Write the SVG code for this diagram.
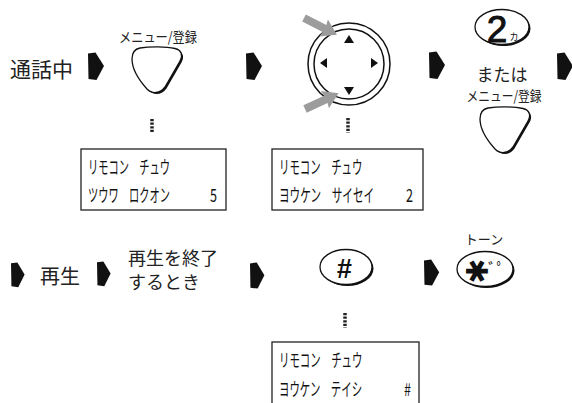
<svg xmlns="http://www.w3.org/2000/svg" width="572" height="403" viewBox="0 0 572 403">
<style>
.bg{fill:#fff}
.lbl{font-family:"Noto Sans CJK JP","Noto Sans",sans-serif;fill:#222}
.lcd{font-family:"Noto Sans CJK JP","Noto Sans",sans-serif;font-size:18px;fill:#111}
.box{fill:#fff;stroke:#222;stroke-width:1.3}
.key{fill:#fff;stroke:#111;stroke-width:1.3}
.shadow{fill:#111}
.dots{stroke:#222;stroke-width:3.5;stroke-dasharray:2.2 1.4;fill:none}
.ring{fill:none;stroke:#111;stroke-width:1.5}
.tri{fill:#111}
.garrow{fill:#9c9c9c}
</style>
<defs>
<path id="arr" d="M0,1.5 L7.5,0.5 L16,14 L8.5,28 L0.5,27 Z" fill="#111"/>
<path id="btnshape" d="M10,1 C20,-0.5 36,-0.5 45,1.5 C52,3 53,9 50,14 L35,40 C30,47 22,47 17,42 C8,32 2,22 2,12 C2,5 5,2 10,1 Z"/>
<polygon id="garr" points="0,-4 23,-4 22,-9.5 37,0 22,9.5 23,4 0,4"/>
</defs>
<rect class="bg" x="0" y="0" width="572" height="403"/>

<g id="connectors">
<use href="#arr" x="88" y="52"/>
<use href="#arr" x="246" y="52"/>
<use href="#arr" x="429" y="51"/>
<use href="#arr" x="557" y="52"/>
<use href="#arr" transform="translate(11,262) scale(0.85,0.9)"/>
<use href="#arr" transform="translate(97,261) scale(0.85,0.9)"/>
<use href="#arr" transform="translate(250,262) scale(0.9,0.95)"/>
<use href="#arr" transform="translate(424,259) scale(0.95,0.95)"/>
<line class="dots" x1="152" y1="119" x2="152" y2="133"/>
<line class="dots" x1="348" y1="118" x2="348" y2="133"/>
<line class="dots" x1="345" y1="313" x2="345" y2="328"/>
</g>

<g id="start">
<text class="lbl" x="10" y="77" font-size="21">通話中</text>
</g>

<g id="menu-key-1">
<text class="lbl" x="158" y="42" font-size="14" text-anchor="middle" textLength="78" lengthAdjust="spacingAndGlyphs">メニュー/登録</text>
<use href="#btnshape" class="shadow" x="131.5" y="48.5"/>
<use href="#btnshape" class="key" x="130" y="47"/>
</g>

<g id="display-1">
<rect class="box" x="81" y="149" width="145" height="61"/>
<text class="lcd" transform="translate(88,174) scale(0.57,1)">リモコン　チュウ</text>
<text class="lcd" transform="translate(88,202) scale(0.57,1)">ツウワ　ロクオン</text>
<text class="lcd" transform="translate(210,202) scale(0.7,1)">5</text>
</g>

<g id="dial">
<circle class="ring" cx="349" cy="64" r="41"/>
<circle class="ring" cx="349" cy="64" r="35"/>
<polygon class="tri" points="344,43 354,43 349,35"/>
<polygon class="tri" points="344,87 354,87 349,95"/>
<polygon class="tri" points="320,63 327,58 327,68"/>
<polygon class="tri" points="378,63 371,58 371,68"/>
<use href="#garr" class="garrow" transform="translate(304,18) rotate(27)"/>
<use href="#garr" class="garrow" transform="translate(305,109) rotate(-25)"/>
</g>

<g id="display-2">
<rect class="box" x="272" y="149" width="151" height="61"/>
<text class="lcd" transform="translate(279,174) scale(0.58,1)">リモコン　チュウ</text>
<text class="lcd" transform="translate(279,202) scale(0.59,1)">ヨウケン　サイセイ</text>
<text class="lcd" transform="translate(406,202) scale(0.7,1)">2</text>
</g>

<g id="key-2">
<ellipse class="shadow" cx="503.5" cy="28.5" rx="27" ry="17.5"/>
<ellipse class="key" cx="502" cy="27" rx="27" ry="17.5"/>
<text x="497" y="42" font-family="Liberation Sans, sans-serif" font-size="37" text-anchor="middle" fill="#111" stroke="#111" stroke-width="1">2</text>
<text x="514" y="40" font-family="Noto Sans CJK JP, sans-serif" font-size="9" text-anchor="middle" fill="#111">カ</text>
</g>

<g id="or-label">
<text class="lbl" x="502" y="81" font-size="17" text-anchor="middle">または</text>
</g>

<g id="menu-key-2">
<text class="lbl" x="504" y="101" font-size="14" text-anchor="middle" textLength="75" lengthAdjust="spacingAndGlyphs">メニュー/登録</text>
<use href="#btnshape" class="shadow" x="479.5" y="108.5"/>
<use href="#btnshape" class="key" x="478" y="107"/>
</g>

<g id="play">
<text class="lbl" x="40" y="284" font-size="20">再生</text>
</g>

<g id="end-play">
<text class="lbl" font-size="18"><tspan x="128" y="265">再生を終了</tspan><tspan x="128" y="289">するとき</tspan></text>
</g>

<g id="key-hash">
<ellipse class="shadow" cx="347.5" cy="268.5" rx="26" ry="17.5"/>
<ellipse class="key" cx="346" cy="267" rx="26" ry="17.5"/>
<text x="344" y="278" font-family="Liberation Sans, sans-serif" font-size="27" font-weight="bold" font-style="italic" text-anchor="middle" fill="#111">#</text>
</g>

<g id="display-3">
<rect class="box" x="272" y="342" width="147" height="70"/>
<text class="lcd" transform="translate(279,367) scale(0.58,1)">リモコン　チュウ</text>
<text class="lcd" transform="translate(279,396) scale(0.58,1)">ヨウケン　テイシ</text>
<text class="lcd" transform="translate(404,396) scale(0.7,1)">#</text>
</g>

<g id="key-star">
<text class="lbl" x="484" y="244" font-size="13" text-anchor="middle">トーン</text>
<ellipse class="shadow" cx="486.5" cy="270.5" rx="28" ry="17.5"/>
<ellipse class="key" cx="485" cy="269" rx="28" ry="17.5"/>
<text x="0" y="0" font-family="DejaVu Sans, sans-serif" font-size="30" font-weight="bold" text-anchor="middle" fill="#111" transform="translate(477,271) rotate(90) translate(0,11)">✱</text>
<text x="488" y="276" font-family="Noto Sans CJK JP, sans-serif" font-size="17" fill="#111">ﾞﾟ</text>
</g>
</svg>
